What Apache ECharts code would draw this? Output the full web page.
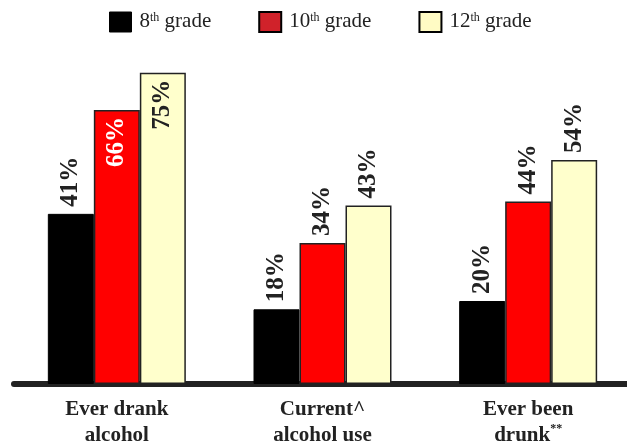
<!DOCTYPE html>
<html>
<head>
<meta charset="utf-8">
<script src="https://cdn.jsdelivr.net/npm/echarts@6/dist/echarts.min.js"></script>
<style>
  html, body { margin: 0; padding: 0; background: #fff; }
  #chart { width: 627px; height: 441px; }
</style>
</head>
<body>
<div id="chart"></div>
<script>
// Alcohol use by grade level (percent of students)
const categories = ['Ever drank\nalcohol', 'Current^\nalcohol use', 'Ever been\ndrunk{sup|**}'];
const grade8 = [41, 18, 20];
const grade10 = [66, 34, 44];
const grade12 = [75, 43, 54];
const seriesNames = ['8th grade', '10th grade', '12th grade'];
const legendLabels = { '8th grade': ['8', 'th'], '10th grade': ['10', 'th'], '12th grade': ['12', 'th'] };

const serif = '"Liberation Serif", "Times New Roman", serif';
const ink = '#222';

// values above this sit inside their bar
const insideThreshold = 60;

function makeData(values, insideColor) {
  return values.map(v => {
    if (v > insideThreshold) {
      return {
        value: v,
        label: {
          position: 'insideTop',
          align: 'right',
          distance: 7,
          color: insideColor
        }
      };
    }
    return v;
  });
}

const valueLabel = {
  show: true,
  position: 'top',
  rotate: 90,
  align: 'left',
  verticalAlign: 'middle',
  distance: 7,
  formatter: '{c}%',
  fontFamily: serif,
  fontWeight: 'bold',
  fontSize: 25,
  color: ink
};

const chart = echarts.init(document.getElementById('chart'));
chart.setOption({
  animation: false,
  backgroundColor: '#fff',
  legend: {
    top: 11,
    left: 109,
    padding: 0,
    itemWidth: 22,
    itemHeight: 20,
    itemGap: 47,
    icon: 'rect',
    data: [
      { name: seriesNames[0], itemStyle: { color: '#000', borderColor: '#000', borderWidth: 1 } },
      { name: seriesNames[1], itemStyle: { color: '#D0222A', borderColor: '#000', borderWidth: 2 } },
      { name: seriesNames[2], itemStyle: { color: '#FFFBC4', borderColor: '#000', borderWidth: 2 } }
    ],
    formatter: name => {
      const p = legendLabels[name];
      return '{a|' + p[0] + '}{s|' + p[1] + '}{a| grade}';
    },
    textStyle: {
      fontFamily: serif,
      color: ink,
      padding: [0, 0, 0, 3],
      rich: {
        a: { fontFamily: serif, fontSize: 21, color: ink, lineHeight: 20, verticalAlign: 'bottom' },
        s: { fontFamily: serif, fontSize: 12, color: ink, lineHeight: 20, verticalAlign: 'top' }
      }
    }
  },
  grid: { left: 14, width: 617, top: 52, bottom: 57, outerBoundsMode: 'none' },
  xAxis: {
    type: 'category',
    data: categories,
    offset: 3,
    axisLine: { show: true, lineStyle: { color: '#222', width: 6 } },
    axisTick: { show: false },
    axisLabel: {
      margin: 10,
      fontFamily: serif,
      fontWeight: 'bold',
      fontSize: 21,
      lineHeight: 26,
      color: ink,
      rich: {
        sup: { fontFamily: serif, fontWeight: 'bold', fontSize: 12, color: ink, verticalAlign: 'top', padding: [0, 0, 8, 0] }
      }
    }
  },
  yAxis: {
    type: 'value',
    min: 0,
    max: 80,
    show: false,
    splitLine: { show: false }
  },
  series: [
    {
      name: seriesNames[0], type: 'bar', barWidth: 46, barGap: '0%',
      itemStyle: { color: '#000', borderColor: '#000', borderWidth: 1 },
      label: valueLabel,
      data: makeData(grade8, '#fff')
    },
    {
      name: seriesNames[1], type: 'bar', barWidth: 46, barGap: '0%',
      itemStyle: { color: '#FF0000', borderColor: '#222', borderWidth: 1.5 },
      label: valueLabel,
      data: makeData(grade10, '#fff')
    },
    {
      name: seriesNames[2], type: 'bar', barWidth: 46, barGap: '0%',
      itemStyle: { color: '#FFFFCC', borderColor: '#222', borderWidth: 1.5 },
      label: valueLabel,
      data: makeData(grade12, ink)
    }
  ]
});
</script>
</body>
</html>
